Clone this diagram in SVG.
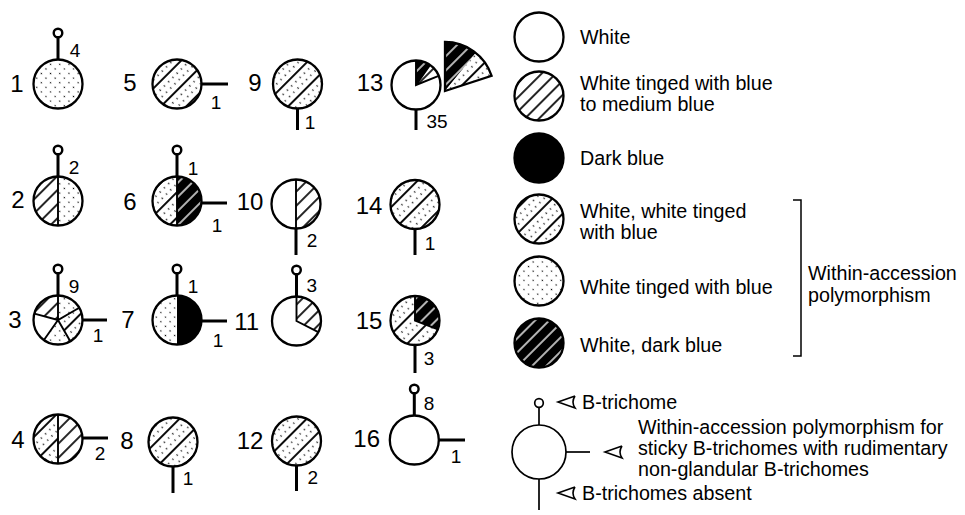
<svg xmlns="http://www.w3.org/2000/svg" width="965" height="515" viewBox="0 0 965 515">
<style>
.c{stroke:#000;stroke-width:2.3;}
.o{fill:none;stroke:#000;stroke-width:2.3;}
.s{stroke:#000;stroke-width:3;fill:none;}
.k{fill:#fff;stroke:#000;stroke-width:2.4;}
.div{stroke:#000;stroke-width:1.9;fill:none;}
.n{font-family:"Liberation Sans",Arial,sans-serif;font-size:24px;text-anchor:middle;fill:#000;}
.m{font-family:"Liberation Sans",Arial,sans-serif;font-size:19px;text-anchor:middle;fill:#000;}
.t{font-family:"Liberation Sans",Arial,sans-serif;font-size:19.7px;fill:#000;}
.ar{fill:none;stroke:#000;stroke-width:1.6;stroke-linejoin:miter;}
</style>
<defs>
<pattern id="hatch" width="10" height="10" patternUnits="userSpaceOnUse" patternTransform="rotate(45)"><rect width="10" height="10" fill="#fff"/><line x1="5" y1="0" x2="5" y2="10" stroke="#000" stroke-width="1.7"/></pattern>
<pattern id="dh" width="18" height="6" patternUnits="userSpaceOnUse" patternTransform="rotate(45)"><rect width="18" height="6" fill="#fff"/><line x1="9" y1="0" x2="9" y2="6" stroke="#000" stroke-width="1.9"/><circle cx="3" cy="1.5" r="0.8" fill="#000"/><circle cx="15" cy="4.5" r="0.8" fill="#000"/></pattern>
<pattern id="dots" width="6.5" height="6.5" patternUnits="userSpaceOnUse" patternTransform="rotate(45)"><rect width="6.5" height="6.5" fill="#fff"/><circle cx="3.25" cy="3.25" r="0.75" fill="#000"/></pattern>
<pattern id="bh" width="10" height="10" patternUnits="userSpaceOnUse" patternTransform="rotate(45)"><rect width="10" height="10" fill="#000"/><line x1="5" y1="0" x2="5" y2="10" stroke="#fff" stroke-width="1.4"/></pattern>
</defs>
<rect width="965" height="515" fill="#fff"/>

<!-- Node 1 -->
<g id="node-1">
<circle cx="58" cy="84" r="24.5" fill="url(#dots)" class="c"/>
<line x1="58" y1="59.5" x2="58" y2="37.3" class="s"/><circle cx="58" cy="33" r="4.3" class="k"/>
<text x="75" y="57" class="m">4</text>
<text x="17" y="92" class="n">1</text>
</g>
<!-- Node 2 -->
<g id="node-2">
<path d="M58,176.5 A24.5,24.5 0 0 0 58,225.5 Z" fill="url(#hatch)"/>
<path d="M58,176.5 A24.5,24.5 0 0 1 58,225.5 Z" fill="url(#dots)"/>
<line x1="58" y1="176.5" x2="58" y2="225.5" class="div"/>
<circle cx="58" cy="201" r="24.5" class="o"/>
<line x1="58" y1="176.5" x2="58" y2="154.3" class="s"/><circle cx="58" cy="150" r="4.3" class="k"/>
<text x="74" y="174" class="m">2</text>
<text x="18" y="208" class="n">2</text>
</g>
<!-- Node 3 -->
<g id="node-3">
<path d="M58,320 L34.34,313.66 A24.5,24.5 0 0 1 58,295.5 Z" fill="url(#hatch)"/>
<path d="M58,320 L58,295.5 A24.5,24.5 0 0 1 79.22,307.75 Z" fill="url(#dots)"/>
<path d="M58,320 L79.22,307.75 A24.5,24.5 0 0 1 70.25,341.22 Z" fill="url(#dh)"/>
<path d="M58,320 L70.25,341.22 A24.5,24.5 0 0 1 43.95,340.07 Z" fill="url(#dots)"/>
<path d="M58,320 L43.95,340.07 A24.5,24.5 0 0 1 34.34,313.66 Z" fill="#fff"/>
<path d="M58,295.5 L58,320 L79.22,307.75 M58,320 L70.25,341.22 M58,320 L43.95,340.07 M58,320 L34.34,313.66" class="div"/>
<circle cx="58" cy="320" r="24.5" class="o"/>
<line x1="58" y1="295.5" x2="58" y2="273.3" class="s"/><circle cx="58" cy="269" r="4.3" class="k"/>
<line x1="82.5" y1="320" x2="107" y2="320" class="s"/>
<text x="74" y="293" class="m">9</text>
<text x="98" y="341.5" class="m">1</text>
<text x="15" y="328" class="n">3</text>
</g>
<!-- Node 4 -->
<g id="node-4">
<path d="M58,414.5 A24.5,24.5 0 0 0 58,463.5 Z" fill="url(#dh)"/>
<path d="M58,414.5 A24.5,24.5 0 0 1 58,463.5 Z" fill="url(#hatch)"/>
<line x1="58" y1="414.5" x2="58" y2="463.5" class="div"/>
<circle cx="58" cy="439" r="24.5" class="o"/>
<line x1="82.5" y1="438" x2="108" y2="438" class="s"/>
<text x="100" y="460" class="m">2</text>
<text x="18" y="448" class="n">4</text>
</g>
<!-- Node 5 -->
<g id="node-5">
<circle cx="177" cy="84" r="24.5" fill="url(#dh)" class="c"/>
<line x1="201.5" y1="84" x2="228" y2="84" class="s"/>
<text x="216" y="109" class="m">1</text>
<text x="130" y="91" class="n">5</text>
</g>
<!-- Node 6 -->
<g id="node-6">
<path d="M177,176.5 A24.5,24.5 0 0 0 177,225.5 Z" fill="url(#dh)"/>
<path d="M177,176.5 A24.5,24.5 0 0 1 177,225.5 Z" fill="url(#bh)"/>
<line x1="177" y1="176.5" x2="177" y2="225.5" class="div"/>
<circle cx="177" cy="201" r="24.5" class="o"/>
<line x1="177" y1="176.5" x2="177" y2="154.3" class="s"/><circle cx="177" cy="150" r="4.3" class="k"/>
<line x1="201.5" y1="203" x2="227" y2="203" class="s"/>
<text x="193" y="175" class="m">1</text>
<text x="217" y="232" class="m">1</text>
<text x="130" y="210" class="n">6</text>
</g>
<!-- Node 7 -->
<g id="node-7">
<path d="M177,295.5 A24.5,24.5 0 0 0 177,344.5 Z" fill="url(#dots)"/>
<path d="M177,295.5 A24.5,24.5 0 0 1 177,344.5 Z" fill="#000"/>
<circle cx="177" cy="320" r="24.5" class="o"/>
<line x1="177" y1="295.5" x2="177" y2="273.3" class="s"/><circle cx="177" cy="269" r="4.3" class="k"/>
<line x1="201.5" y1="321" x2="227" y2="321" class="s"/>
<text x="193" y="293" class="m">1</text>
<text x="218" y="347" class="m">1</text>
<text x="128" y="328" class="n">7</text>
</g>
<!-- Node 8 -->
<g id="node-8">
<circle cx="173" cy="442" r="24.5" fill="url(#dh)" class="c"/>
<line x1="173" y1="466.5" x2="173" y2="493" class="s"/>
<text x="188" y="485" class="m">1</text>
<text x="127" y="449" class="n">8</text>
</g>
<!-- Node 9 -->
<g id="node-9">
<circle cx="297.5" cy="84" r="24.5" fill="url(#dh)" class="c"/>
<line x1="297.5" y1="108.5" x2="297.5" y2="130" class="s"/>
<text x="310" y="129" class="m">1</text>
<text x="255" y="91" class="n">9</text>
</g>
<!-- Node 10 -->
<g id="node-10">
<path d="M296,179.5 A24.5,24.5 0 0 1 296,228.5 Z" fill="url(#hatch)"/>
<line x1="296" y1="179.5" x2="296" y2="228.5" class="div"/>
<circle cx="296" cy="204" r="24.5" class="o"/>
<line x1="296" y1="228.5" x2="296" y2="255" class="s"/>
<text x="312" y="247" class="m">2</text>
<text x="250" y="210" class="n">10</text>
</g>
<!-- Node 11 -->
<g id="node-11">
<circle cx="296.5" cy="321" r="24.5" fill="#fff"/>
<path d="M296.5,321 L296.5,296.5 A24.5,24.5 0 0 1 318.33,332.12 Z" fill="url(#hatch)"/>
<path d="M296.5,296.5 L296.5,321 L318.33,332.12" class="div"/>
<circle cx="296.5" cy="321" r="24.5" class="o"/>
<line x1="296.5" y1="296.5" x2="296.5" y2="274.3" class="s"/><circle cx="296.5" cy="270" r="4.3" class="k"/>
<text x="311.7" y="292" class="m">3</text>
<text x="246.7" y="330" class="n">11</text>
</g>
<!-- Node 12 -->
<g id="node-12">
<circle cx="296.5" cy="441" r="24.5" fill="url(#dh)" class="c"/>
<line x1="296.5" y1="465.5" x2="296.5" y2="491" class="s"/>
<text x="312.7" y="484" class="m">2</text>
<text x="250" y="449" class="n">12</text>
</g>
<!-- Node 13 -->
<g id="node-13">
<circle cx="416" cy="85" r="24.5" fill="#fff"/>
<path d="M416,85 L416,60.5 A24.5,24.5 0 0 1 430.05,64.93 Z" fill="url(#bh)"/>
<path d="M416,85 L430.05,64.93 A24.5,24.5 0 0 1 438.72,75.82 Z" fill="url(#hatch)"/>
<path d="M416,60.5 L416,85 L438.72,75.82 M416,85 L430.05,64.93" class="div"/>
<circle cx="416" cy="85" r="24.5" class="o"/>
<line x1="416" y1="109.5" x2="416" y2="130" class="s"/>
<text x="437" y="127.5" class="m">35</text>
<text x="370" y="91" class="n">13</text>
<path d="M445,91 L445,42 A49,49 0 0 1 475.84,52.92 Z" fill="url(#bh)"/>
<path d="M445,91 L475.84,52.92 A49,49 0 0 1 491.6,75.86 Z" fill="url(#dh)"/>
<path d="M445,91 L445,42 A49,49 0 0 1 491.6,75.86 Z" class="o"/>
</g>
<!-- Node 14 -->
<g id="node-14">
<circle cx="415" cy="204.5" r="24.5" fill="url(#dh)" class="c"/>
<line x1="415" y1="229" x2="415" y2="255" class="s"/>
<text x="430" y="250" class="m">1</text>
<text x="369" y="214" class="n">14</text>
</g>
<!-- Node 15 -->
<g id="node-15">
<circle cx="415" cy="320.5" r="24.5" fill="url(#dh)"/>
<path d="M415,320.5 L415,296 A24.5,24.5 0 0 1 437.87,329.28 Z" fill="url(#bh)"/>
<path d="M415,296 L415,320.5 L437.87,329.28" class="div"/>
<circle cx="415" cy="320.5" r="24.5" class="o"/>
<line x1="415" y1="345" x2="415" y2="373" class="s"/>
<text x="429" y="365" class="m">3</text>
<text x="369" y="329" class="n">15</text>
</g>
<!-- Node 16 -->
<g id="node-16">
<circle cx="414.3" cy="440" r="24.5" fill="#fff" class="c"/>
<line x1="414.3" y1="415.5" x2="414.3" y2="393.3" class="s"/><circle cx="414.3" cy="389" r="4.3" class="k"/>
<line x1="438.8" y1="440" x2="465" y2="440" class="s"/>
<text x="429" y="410" class="m">8</text>
<text x="456" y="463" class="m">1</text>
<text x="366.7" y="447" class="n">16</text>
</g>

<!-- Legend -->
<g id="legend-white"><circle cx="539" cy="37" r="24.5" fill="#fff" class="c"/><text x="580" y="44" class="t">White</text></g>
<g id="legend-hatch"><circle cx="539" cy="96" r="24.5" fill="url(#hatch)" class="c"/><text x="580" y="90" class="t">White tinged with blue</text><text x="580" y="111" class="t">to medium blue</text></g>
<g id="legend-dark"><circle cx="539" cy="158" r="24.5" fill="#000" class="c"/><text x="580" y="165" class="t">Dark blue</text></g>
<g id="legend-dh"><circle cx="539" cy="219" r="24.5" fill="url(#dh)" class="c"/><text x="580" y="218" class="t">White, white tinged</text><text x="580" y="239" class="t">with blue</text></g>
<g id="legend-dots"><circle cx="539" cy="281" r="24.5" fill="url(#dots)" class="c"/><text x="580" y="294" class="t">White tinged with blue</text></g>
<g id="legend-bh"><circle cx="539" cy="343" r="24.5" fill="url(#bh)" class="c"/><text x="580" y="352" class="t">White, dark blue</text></g>
<g id="bracket">
<path d="M793,200 H801 V356 H793" fill="none" stroke="#000" stroke-width="1.5"/>
<text x="808" y="280" class="t">Within-accession</text>
<text x="808" y="302" class="t">polymorphism</text>
</g>
<g id="legend-key">
<circle cx="539" cy="452" r="27" fill="#fff" stroke="#000" stroke-width="1.7"/>
<line x1="539" y1="425" x2="539" y2="407.5" stroke="#000" stroke-width="1.7"/>
<circle cx="539" cy="403" r="4.3" fill="#fff" stroke="#000" stroke-width="1.7"/>
<line x1="566" y1="452" x2="590" y2="452" stroke="#000" stroke-width="1.7"/>
<line x1="539" y1="479" x2="539" y2="510" stroke="#000" stroke-width="1.7"/>
</g>
<g id="connectors">
<path d="M575,396 L558,402 L575,408 Q571,402 575,396" class="ar"/>
<path d="M622,446 L605,452 L622,458 Q618,452 622,446" class="ar"/>
<path d="M575,487 L558,493 L575,499 Q571,493 575,487" class="ar"/>
</g>
<g id="legend-labels">
<text x="582" y="409" class="t">B-trichome</text>
<text x="638" y="434" class="t">Within-accession polymorphism for</text>
<text x="638" y="455" class="t">sticky B-trichomes with rudimentary</text>
<text x="638" y="476" class="t">non-glandular B-trichomes</text>
<text x="582" y="500" class="t">B-trichomes absent</text>
</g>
</svg>
